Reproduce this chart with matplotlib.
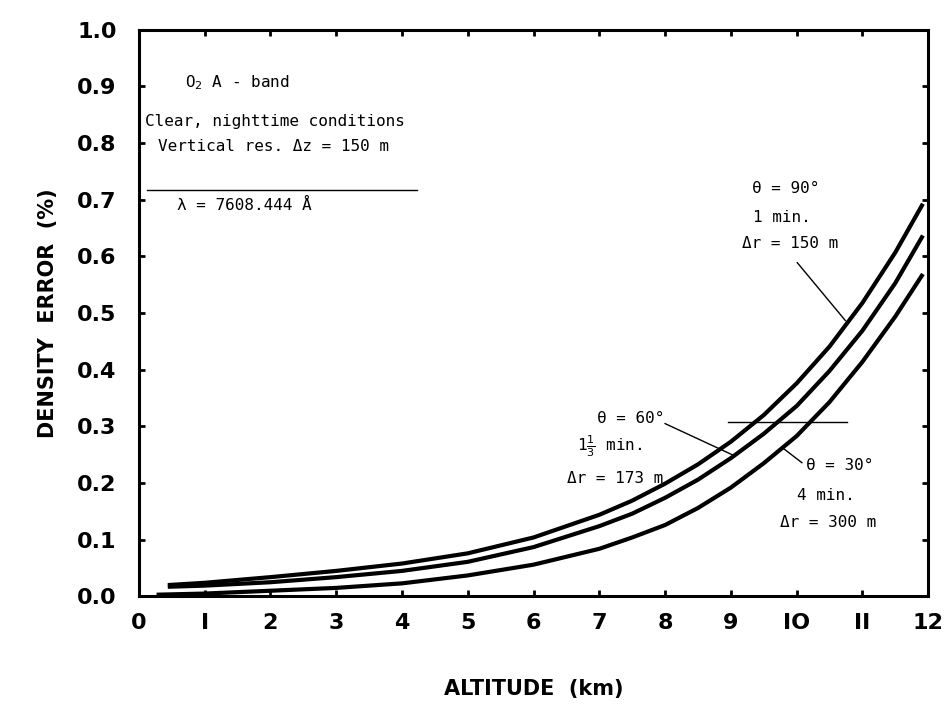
import matplotlib
matplotlib.use("Agg")
import matplotlib.pyplot as plt

# density error (%) vs altitude (km)
alt_90 = [0.44, 1, 2, 3, 4, 5, 6, 7, 7.5, 8, 8.5, 9, 9.5, 10, 10.5, 11, 11.5, 11.92]
err_90 = [0.020, 0.024, 0.034, 0.045, 0.058, 0.076, 0.104, 0.144, 0.169, 0.199, 0.233,
          0.273, 0.320, 0.376, 0.441, 0.518, 0.607, 0.693]

alt_60 = [0.44, 1, 2, 3, 4, 5, 6, 7, 7.5, 8, 8.5, 9, 9.5, 10, 10.5, 11, 11.5, 11.92]
err_60 = [0.017, 0.019, 0.025, 0.034, 0.045, 0.061, 0.087, 0.124, 0.146, 0.174, 0.206,
          0.244, 0.287, 0.336, 0.398, 0.469, 0.553, 0.637]

alt_30 = [0.27, 1, 2, 3, 4, 5, 6, 7, 7.5, 8, 8.5, 9, 9.5, 10, 10.5, 11, 11.5, 11.92]
err_30 = [0.003, 0.005, 0.010, 0.015, 0.023, 0.037, 0.056, 0.084, 0.104, 0.126, 0.156,
          0.192, 0.235, 0.283, 0.343, 0.414, 0.494, 0.569]

x_ticks = list(range(0, 13))
x_ticklabels = ["0", "I", "2", "3", "4", "5", "6", "7", "8", "9", "IO", "II", "12"]
y_ticks = [i / 10 for i in range(11)]
y_ticklabels = [f"{v:.1f}" for v in y_ticks]

mono = "DejaVu Sans Mono"
fs = 11.5

fig = plt.figure(figsize=(9.51, 7.10), dpi=100)
ax = fig.add_axes([0.146, 0.160, 0.830, 0.798])

for xs, ys in [(alt_90, err_90), (alt_60, err_60), (alt_30, err_30)]:
    ax.plot(xs, ys, color="black", lw=3.0, solid_capstyle="butt", solid_joinstyle="round")

ax.set_xlim(0, 12)
ax.set_ylim(0, 1.0)
ax.set_xticks(x_ticks)
ax.set_xticklabels(x_ticklabels, fontsize=16, fontweight="bold")
ax.set_yticks(y_ticks)
ax.set_yticklabels(y_ticklabels, fontsize=16, fontweight="bold")
ax.tick_params(direction="in", length=4, width=2, top=True, right=True)
ax.tick_params(axis="x", pad=12)
ax.tick_params(axis="y", pad=16)
for s in ax.spines.values():
    s.set_linewidth(2.2)

ax.set_xlabel("ALTITUDE  (km)", fontsize=15, fontweight="bold", labelpad=33)
ax.set_ylabel("DENSITY  ERROR  (%)", fontsize=15, fontweight="bold", labelpad=14)

# header block
ax.text(0.70, 0.906, "O$_2$ A - band", family=mono, fontsize=fs, va="center")
ax.text(0.09, 0.838, "Clear, nighttime conditions", family=mono, fontsize=fs, va="center")
ax.text(0.29, 0.794, "Vertical res. Δz = 150 m", family=mono, fontsize=fs, va="center")
ax.plot([0.12, 4.23], [0.718, 0.718], color="black", lw=1)
ax.text(0.58, 0.69, "λ = 7608.444 Å", family=mono, fontsize=fs, va="center")

# curve labels
ax.text(9.83, 0.72, "θ = 90°", family=mono, fontsize=fs, ha="center", va="center")
ax.text(9.78, 0.668, "1 min.", family=mono, fontsize=fs, ha="center", va="center")
ax.text(9.9, 0.623, "Δr = 150 m", family=mono, fontsize=fs, ha="center", va="center")
ax.plot([10.01, 10.74], [0.589, 0.487], color="black", lw=1)

ax.text(7.47, 0.314, "θ = 60°", family=mono, fontsize=fs, ha="center", va="center")
ax.text(7.16, 0.266, "1$\\frac{1}{3}$ min.", family=mono, fontsize=fs, ha="center", va="center")
ax.text(7.24, 0.208, "Δr = 173 m", family=mono, fontsize=fs, ha="center", va="center")
ax.plot([8.0, 9.04], [0.305, 0.249], color="black", lw=1)

ax.text(10.66, 0.231, "θ = 30°", family=mono, fontsize=fs, ha="center", va="center")
ax.text(10.45, 0.178, "4 min.", family=mono, fontsize=fs, ha="center", va="center")
ax.text(10.48, 0.13, "Δr = 300 m", family=mono, fontsize=fs, ha="center", va="center")
ax.plot([10.08, 9.8], [0.236, 0.261], color="black", lw=1)

ax.plot([8.96, 10.77], [0.307, 0.307], color="black", lw=1)

fig.savefig("out.png", dpi=100)
